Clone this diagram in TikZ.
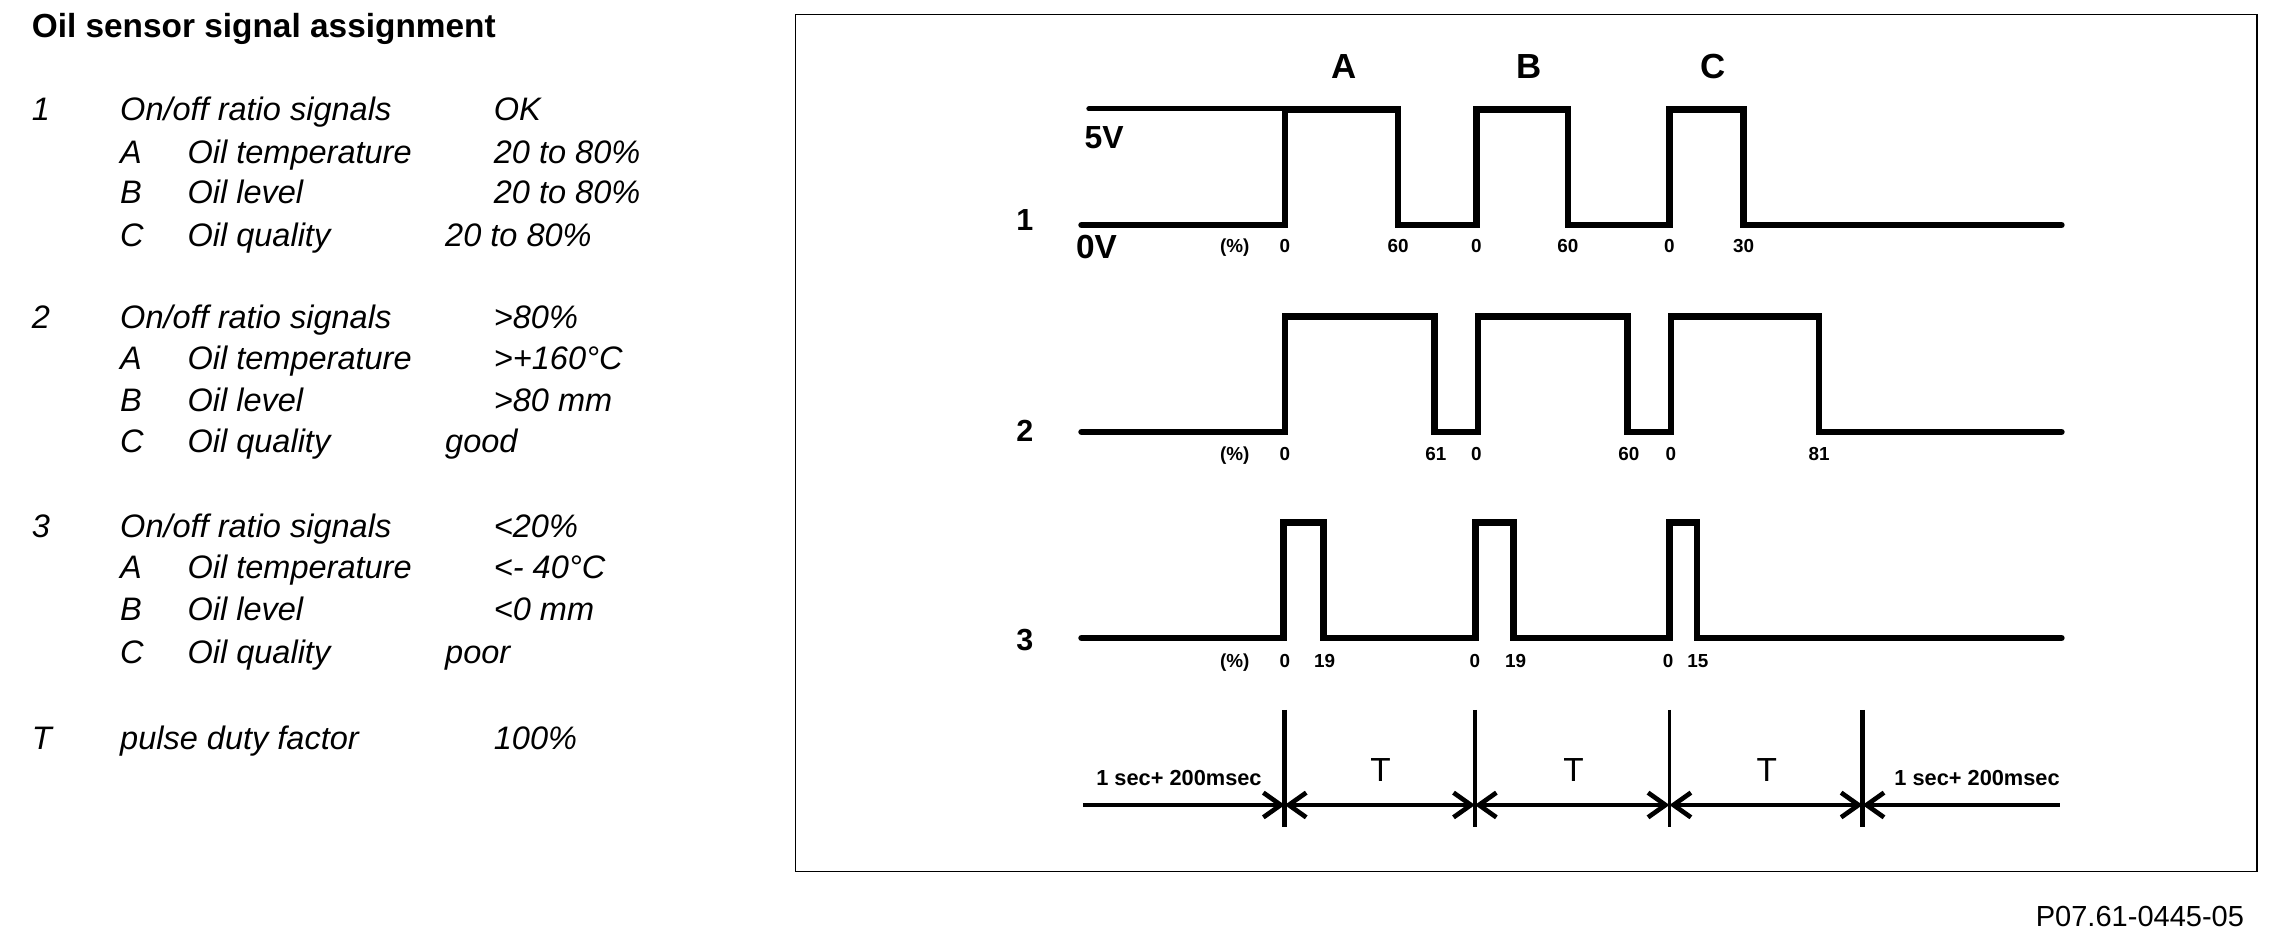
\documentclass[tikz,border=0pt]{standalone}
\usepackage{fontspec}
\setmainfont{Liberation Sans}
\usetikzlibrary{arrows.meta}

\tikzset{
  legend/.style={anchor=base west, inner sep=0pt, font=\fontsize{22.4}{26}\selectfont\itshape},
  heading/.style={anchor=base west, inner sep=0pt, font=\fontsize{23}{27}\selectfont\bfseries},
  wave/.style={line width=4.5pt, line join=miter, line cap=round},
  duty/.style={anchor=base, inner sep=0pt, font=\fontsize{13}{14}\selectfont\bfseries},
  chan/.style={anchor=base, inner sep=0pt, font=\fontsize{21}{24}\selectfont\bfseries},
  timeline/.style={line width=3.2pt, >={Straight Barb[length=12pt,width=17pt]}},
}

\begin{document}
\begin{tikzpicture}[x=1pt,y=-1pt]

        \useasboundingbox (0,0) rectangle (1568.5,649);

        % Legend on the left
        \node[heading] (title) at (21.7,25.7) {Oil sensor signal assignment};
        \foreach \g/\y/\val in {1/83/OK, 2/226/>80\%, 3/370/<20\%} {
            \node[legend] (g\g) at (21.7,\y) {\g};
            \node[legend] (g\g text) at (82.6,\y) {On/off ratio signals};
            \node[legend] (g\g val) at (340,\y) {\val};
        }
        \foreach \g/\y/\l/\name/\vx/\val in {
            1/112.5/A/Oil temperature/340/20 to 80\%,
            1/140.5/B/Oil level/340/20 to 80\%,
            1/169.9/C/Oil quality/306.5/20 to 80\%,
            2/254.8/A/Oil temperature/340/>+160°C,
            2/283.5/B/Oil level/340/>80 mm,
            2/312/C/Oil quality/306.5/good,
            3/398.8/A/Oil temperature/340/<- 40°C,
            3/427.5/B/Oil level/340/<0 mm,
            3/456.8/C/Oil quality/306.5/poor} {
            \node[legend] (g\g\l) at (82.6,\y) {\l};
            \node[legend] (g\g\l name) at (129,\y) {\name};
            \node[legend] (g\g\l val) at (\vx,\y) {\val};
        }
        \node[legend] (tsym) at (21.7,516.5) {T};
        \node[legend] (ttext) at (82.6,516.5) {pulse duty factor};
        \node[legend] (tval) at (340,516.5) {100\%};

        % Frame of the diagram
        \draw[line width=1.3pt] (548,10) rectangle (1555,600.3);

        % Channel letters
        \node[chan, font=\fontsize{24}{28}\selectfont\bfseries] (chA) at (926,54) {A};
        \node[chan, font=\fontsize{24}{28}\selectfont\bfseries] (chB) at (1053,54) {B};
        \node[chan, font=\fontsize{24}{28}\selectfont\bfseries] (chC) at (1180,54) {C};

        % Signal 1
        \node[chan] (sig1) at (706,158.5) {1};
        \draw[line width=3.4pt, line cap=round] (750,75) -- (884,75);
        \node[heading, font=\fontsize{22}{26}\selectfont\bfseries] (hi) at (747,102) {5V};
        \node[heading] (lo) at (741,178) {0V};
        \draw[wave] (745,155) \foreach \a/\b in {885/963, 1017/1080, 1150/1201} {
            -- (\a,155) -- (\a,75.5) -- (\b,75.5) -- (\b,155)} -- (1420,155);
        \foreach \x/\t [count=\i] in {850.5/(\%), 885/0, 963/60, 1017/0, 1080/60, 1150/0, 1201/30}
            \node[duty] (d1-\i) at (\x,174) {\t};

        % Signal 2
        \node[chan] (sig2) at (706,304) {2};
        \draw[wave] (745,297.5) \foreach \a/\b in {885/988, 1018/1121, 1151/1253} {
            -- (\a,297.5) -- (\a,218) -- (\b,218) -- (\b,297.5)} -- (1420,297.5);
        \foreach \x/\t [count=\i] in {850.5/(\%), 885/0, 989/61, 1017/0, 1122/60, 1151/0, 1253/81}
            \node[duty] (d2-\i) at (\x,317) {\t};

        % Signal 3
        \node[chan] (sig3) at (706,448) {3};
        \draw[wave] (745,439.5) \foreach \a/\b in {884/911.5, 1016.5/1042.5, 1150/1169} {
            -- (\a,439.5) -- (\a,360) -- (\b,360) -- (\b,439.5)} -- (1420,439.5);
        \foreach \x/\t [count=\i] in {850.5/(\%), 885/0, 912.5/19, 1016/0, 1044/19, 1149/0, 1169.5/15}
            \node[duty] (d3-\i) at (\x,460) {\t};

        % Time axis
        \coordinate (tl) at (746,554.5);
        \coordinate (tr) at (1419,554.5);
        \foreach \x/\w [count=\i] in {885/3.7, 1016/2.6, 1150/2.6, 1283/3.7} {
            \coordinate (t\i) at (\x,554.5);
            \draw[line width=\w pt] (\x,489) -- (\x,570);
        }
        \draw[timeline,->] (tl) -- (t1);
        \draw[timeline,<->] (t1) -- (t2);
        \draw[timeline,<->] (t2) -- (t3);
        \draw[timeline,<->] (t3) -- (t4);
        \draw[timeline,<-] (t4) -- (tr);
        \node[duty, anchor=base west, font=\fontsize{15}{17}\selectfont\bfseries] (pre) at (755,541) {1 sec+ 200msec};
        \node[duty, anchor=base east, font=\fontsize{15}{17}\selectfont\bfseries] (post) at (1419,541) {1 sec+ 200msec};
        \foreach \x [count=\i] in {951, 1084, 1217}
            \node[chan, font=\fontsize{23}{27}\selectfont] (T\i) at (\x,538.5) {T};

        % Figure number
        \node[anchor=base east, inner sep=0pt, font=\fontsize{20}{24}\selectfont] (fig) at (1546,638) {P07.61-0445-05};

    \end{tikzpicture}
\end{document}
